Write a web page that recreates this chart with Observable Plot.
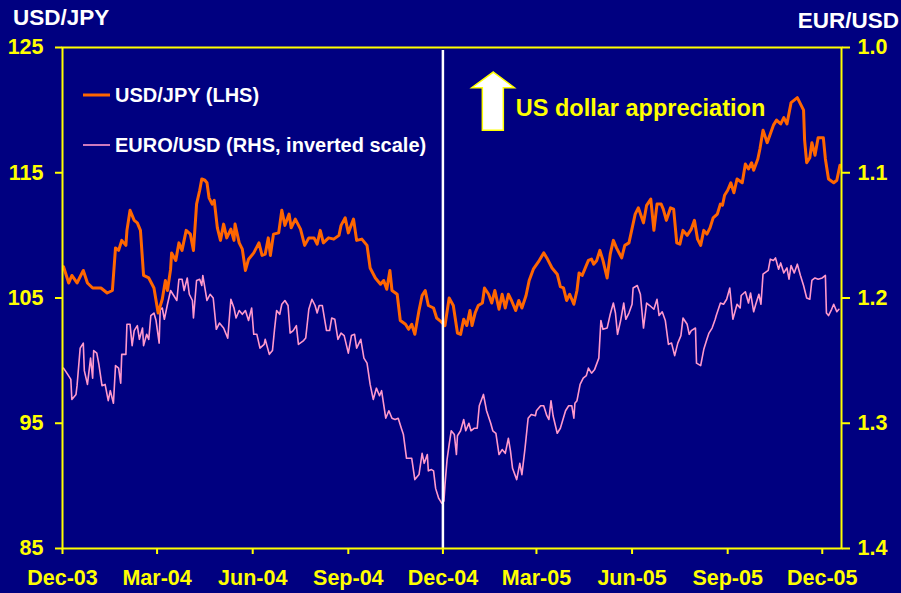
<!DOCTYPE html>
<html>
<head>
<meta charset="utf-8">
<script src="https://cdn.jsdelivr.net/npm/d3@7"></script>
<script src="https://cdn.jsdelivr.net/npm/@observablehq/plot@0.6"></script>
<style>
  html, body { margin: 0; padding: 0; background: #000080; }
  #chart { width: 901px; height: 593px; }
</style>
</head>
<body>
<div id="chart"></div>
<script>
// ---- Data (days since 1 Dec 2003) ----
const startDate = Date.UTC(2003, 11, 1);

const usdJpyDays = [1,6,9,14,20,24,29,37,43,48,51,54,57,61,62,65,69,72,75,78,83,88,92,96,99,101,104,105,109,112,115,119,123,126,129,132,134,137,139,141,144,146,149,152,155,158,162,165,166,170,173,176,179,184,
189,192,195,198,200,203,208,211,214,218,220,224,229,233,237,242,245,248,251,256,261,266,268,272,275,280,283,288,293,296,301,306,309,312,315,317,322,325,330,333,336,339,343,346,349,352,357,360,363,
368,372,376,380,383,386,389,392,394,397,400,404,406,410,413,416,420,423,426,429,432,436,439,442,446,449,453,458,463,466,471,476,479,482,485,488,492,495,497,500,503,506,509,511,514,517,520,524,527,530,533,538,541,545,
551,554,559,562,566,569,572,576,578,581,585,588,591,594,597,601,605,608,611,614,617,620,623,626,630,633,635,637,640,643,646,649,654,657,660,663,665,669,671,674,678,681,684,687,691,694,697,701,704,707,710,713,714,716,719,721,724,727,732,734,737,742,745,748];
const usdJpyValues = [107.5,106.2,106.8,106.2,107.2,106.2,105.8,105.8,105.4,105.6,109.0,108.8,109.6,109.2,110.4,112.0,111.2,111.0,110.4,106.8,106.6,105.8,103.8,104.9,106.4,105.6,107.3,108.6,108.0,109.4,108.8,110.4,110.1,108.8,112.5,113.6,114.5,114.4,114.2,113.0,112.5,112.8,110.6,109.6,110.9,109.8,110.5,109.6,110.9,109.4,108.9,107.2,108.1,108.6,
109.4,108.4,108.5,109.8,108.4,110.1,110.2,112.0,110.8,111.7,110.6,111.3,110.5,109.2,109.8,109.8,109.3,110.4,109.4,109.8,109.7,110.0,110.8,111.4,110.2,111.3,109.6,109.7,109.2,107.4,106.6,106.1,106.4,105.7,107.2,105.6,105.3,103.2,102.9,102.5,102.9,102.1,104.0,105.2,105.6,104.4,104.2,103.4,103.2,
102.8,105.0,104.4,102.2,102.1,103.3,102.8,104.0,102.8,103.8,104.4,104.6,105.8,105.3,104.6,105.6,104.1,105.3,104.2,105.3,104.8,104.0,104.8,104.2,105.2,106.4,107.3,107.9,108.6,108.2,107.4,106.9,105.9,105.8,104.8,105.3,104.5,105.6,107.0,106.8,107.4,108.0,108.1,107.7,108.0,108.8,108.0,106.6,108.5,109.6,109.0,108.2,109.2,109.4,
111.7,112.2,111.0,112.4,112.9,110.4,112.5,112.5,112.1,111.2,112.2,112.1,109.4,109.3,110.4,110.0,110.5,111.2,109.7,109.2,110.4,110.1,110.6,111.4,111.7,112.5,112.4,113.2,113.6,114.2,113.4,114.5,114.2,115.7,115.3,115.8,115.2,116.1,116.9,118.4,117.4,118.1,118.8,119.2,118.9,119.4,118.9,120.6,120.8,121.0,120.5,120.0,117.6,115.8,116.2,117.4,116.4,117.8,117.8,116.1,114.5,114.2,114.4,115.6];

const eurUsdDays = [1,5,8,9,13,14,17,20,21,24,27,29,30,33,35,38,41,44,46,49,51,54,56,57,61,62,65,67,69,72,74,77,78,81,83,85,88,90,93,94,96,98,101,104,107,110,112,115,117,120,122,125,126,129,132,134,135,139,142,145,148,151,155,159,162,165,167,170,173,176,179,182,184,
187,190,194,195,199,202,204,206,209,211,214,217,219,222,225,227,232,234,237,240,243,245,247,250,254,257,259,262,265,268,271,275,278,281,283,287,290,293,296,299,302,305,307,311,314,317,320,323,326,328,331,336,339,343,346,348,351,352,355,357,359,362,365,
367,368,370,372,374,377,379,380,383,386,388,391,393,396,399,401,405,408,412,414,417,420,423,426,429,431,433,437,440,442,445,448,451,455,456,460,463,466,468,470,472,476,479,484,487,490,492,493,495,498,501,504,506,509,512,516,518,520,524,527,530,532,534,537,540,542,545,548,549,553,
556,559,562,565,569,572,574,577,580,583,586,589,592,595,597,601,603,605,609,610,614,617,620,622,625,628,629,633,636,639,642,645,649,652,653,657,660,662,665,667,670,672,674,679,681,684,686,689,691,694,697,699,701,704,707,710,713,716,719,721,724,727,731,734,735,737,740,742,745,747];
const eurUsdValues = [1.256,1.261,1.265,1.281,1.277,1.270,1.240,1.236,1.258,1.269,1.248,1.264,1.242,1.244,1.253,1.270,1.269,1.282,1.274,1.284,1.254,1.256,1.268,1.245,1.245,1.221,1.221,1.238,1.226,1.222,1.233,1.224,1.238,1.229,1.233,1.214,1.212,1.218,1.236,1.209,1.208,1.217,1.205,1.194,1.198,1.202,1.185,1.185,1.194,1.184,1.197,1.202,1.216,1.186,1.185,1.190,1.182,1.202,1.197,1.200,1.225,1.220,1.224,1.232,1.201,1.208,1.216,1.210,1.213,1.210,1.218,1.208,1.229,
1.229,1.240,1.237,1.233,1.245,1.242,1.225,1.210,1.213,1.205,1.202,1.206,1.228,1.226,1.222,1.237,1.234,1.232,1.209,1.201,1.206,1.212,1.206,1.206,1.226,1.226,1.216,1.217,1.233,1.228,1.230,1.244,1.230,1.229,1.240,1.233,1.248,1.252,1.269,1.281,1.272,1.278,1.274,1.296,1.290,1.296,1.297,1.296,1.304,1.309,1.328,1.328,1.345,1.341,1.324,1.332,1.325,1.338,1.337,1.338,1.352,1.360,1.364,
1.362,1.349,1.329,1.317,1.306,1.309,1.325,1.310,1.306,1.297,1.306,1.300,1.306,1.304,1.304,1.286,1.277,1.290,1.300,1.306,1.308,1.325,1.321,1.324,1.312,1.322,1.336,1.345,1.332,1.341,1.320,1.296,1.293,1.294,1.290,1.286,1.286,1.294,1.297,1.282,1.294,1.308,1.304,1.290,1.286,1.286,1.296,1.284,1.282,1.269,1.264,1.262,1.256,1.260,1.257,1.248,1.218,1.225,1.224,1.213,1.204,1.212,1.229,1.218,1.204,1.217,1.212,1.205,1.192,1.190,
1.197,1.224,1.204,1.206,1.209,1.201,1.214,1.211,1.218,1.237,1.236,1.246,1.236,1.230,1.216,1.221,1.229,1.226,1.224,1.252,1.254,1.241,1.233,1.228,1.224,1.217,1.214,1.204,1.205,1.201,1.192,1.217,1.205,1.208,1.198,1.195,1.204,1.196,1.211,1.205,1.197,1.205,1.181,1.178,1.169,1.170,1.168,1.177,1.172,1.180,1.176,1.185,1.174,1.180,1.173,1.182,1.190,1.200,1.201,1.186,1.184,1.185,1.184,1.182,1.212,1.214,1.209,1.205,1.211,1.209];

const xTickDates = ["2003-12-01","2004-03-01","2004-06-01","2004-09-01","2004-12-01","2005-03-01","2005-06-01","2005-09-01","2005-12-01"];
const leftTicks = [85, 95, 105, 115, 125];
const rightTickLabels = ["1.4", "1.3", "1.2", "1.1", "1.0"];
const markerDate = "2004-12-01";

// ---- Build tables ----
const toDate = d => new Date(startDate + d * 864e5);
const jpy = usdJpyDays.map((d, i) => ({date: toDate(d), value: usdJpyValues[i]}));
const eur = eurUsdDays.map((d, i) => ({date: toDate(d), value: eurUsdValues[i]}));
// right axis: EUR/USD 1.0 (top) .. 1.4 (bottom) mapped onto left 125 .. 85
const eurToLeft = v => 125 - (v - 1.0) * 100;

const YELLOW = "#FFFF00", NAVY = "#000080", ORANGE = "#FF6600", PINK = "#FF99CC";
const FONT = "'Liberation Sans', Arial, Helvetica, sans-serif";

const plot = Plot.plot({
  width: 901,
  height: 593,
  marginLeft: 62,
  marginRight: 60,
  marginTop: 47,
  marginBottom: 45,
  style: {background: NAVY, color: YELLOW, fontFamily: FONT, fontSize: "21.5px", fontWeight: "bold"},
  x: {type: "utc", domain: [new Date(Date.UTC(2003, 11, 1)), new Date(Date.UTC(2005, 11, 19, 12))]},
  y: {domain: [85, 125]},
  marks: [
    Plot.line(eur, {x: "date", y: d => eurToLeft(d.value), stroke: PINK, strokeWidth: 1.6}),
    Plot.line(jpy, {x: "date", y: "value", stroke: ORANGE, strokeWidth: 3}),
    Plot.ruleX([new Date(markerDate)], {stroke: "white", strokeWidth: 2.5, insetTop: 3}),
    Plot.frame({stroke: YELLOW, strokeWidth: 2}),
    Plot.axisX({ticks: xTickDates.map(s => new Date(s)), tickFormat: d3.utcFormat("%b-%y"), tickSize: 6, tickPadding: 15, strokeWidth: 2, label: null}),
    Plot.axisY({anchor: "left", ticks: leftTicks, tickSize: 7, tickPadding: 12, strokeWidth: 2, label: null}),
    Plot.axisY({anchor: "right", ticks: leftTicks, tickFormat: v => rightTickLabels[leftTicks.indexOf(v)], tickSize: 8, tickPadding: 8, strokeWidth: 2, label: null})
  ]
});

document.getElementById("chart").appendChild(plot);

// ---- Annotations ----
const svg = d3.select(plot);
const xs = plot.scale("x"), ys = plot.scale("y");
const ann = svg.append("g").attr("text-anchor", "start").style("font-family", FONT).style("font-weight", "bold");

ann.append("text").attr("x", 13).attr("y", 25).attr("fill", "white")
  .style("font-size", "22.5px").text("USD/JPY");
ann.append("text").attr("x", 899).attr("y", 28).attr("fill", "white").attr("text-anchor", "end")
  .style("font-size", "22.5px").text("EUR/USD");

// legend
const legend = [
  {label: "USD/JPY (LHS)", color: ORANGE, width: 3, y: 95},
  {label: "EURO/USD (RHS, inverted scale)", color: PINK, width: 1.6, y: 145}
];
legend.forEach(l => {
  ann.append("line").attr("x1", 83).attr("x2", 110).attr("y1", l.y).attr("y2", l.y)
    .attr("stroke", l.color).attr("stroke-width", l.width);
  ann.append("text").attr("x", 115).attr("y", l.y + 7).attr("fill", "white")
    .style("font-size", "20px").text(l.label);
});

// arrow anchored at a data position
const ax = xs.apply(new Date("2005-01-19")), ay = ys.apply(123);
const p = [[0,0],[21,15.6],[10,15.6],[10,58.3],[-11,58.3],[-11,15.6],[-21.6,15.6]]
  .map(([dx, dy]) => [ax + dx, ay + dy]);
ann.append("path").attr("d", "M" + p.map(q => q.join(",")).join("L") + "Z")
  .attr("fill", "white").attr("stroke", YELLOW).attr("stroke-width", 1.5);
ann.append("text").attr("x", ax + 22.5).attr("y", ay + 43.5).attr("fill", YELLOW)
  .style("font-size", "23.5px").text("US dollar appreciation");
</script>
</body>
</html>
